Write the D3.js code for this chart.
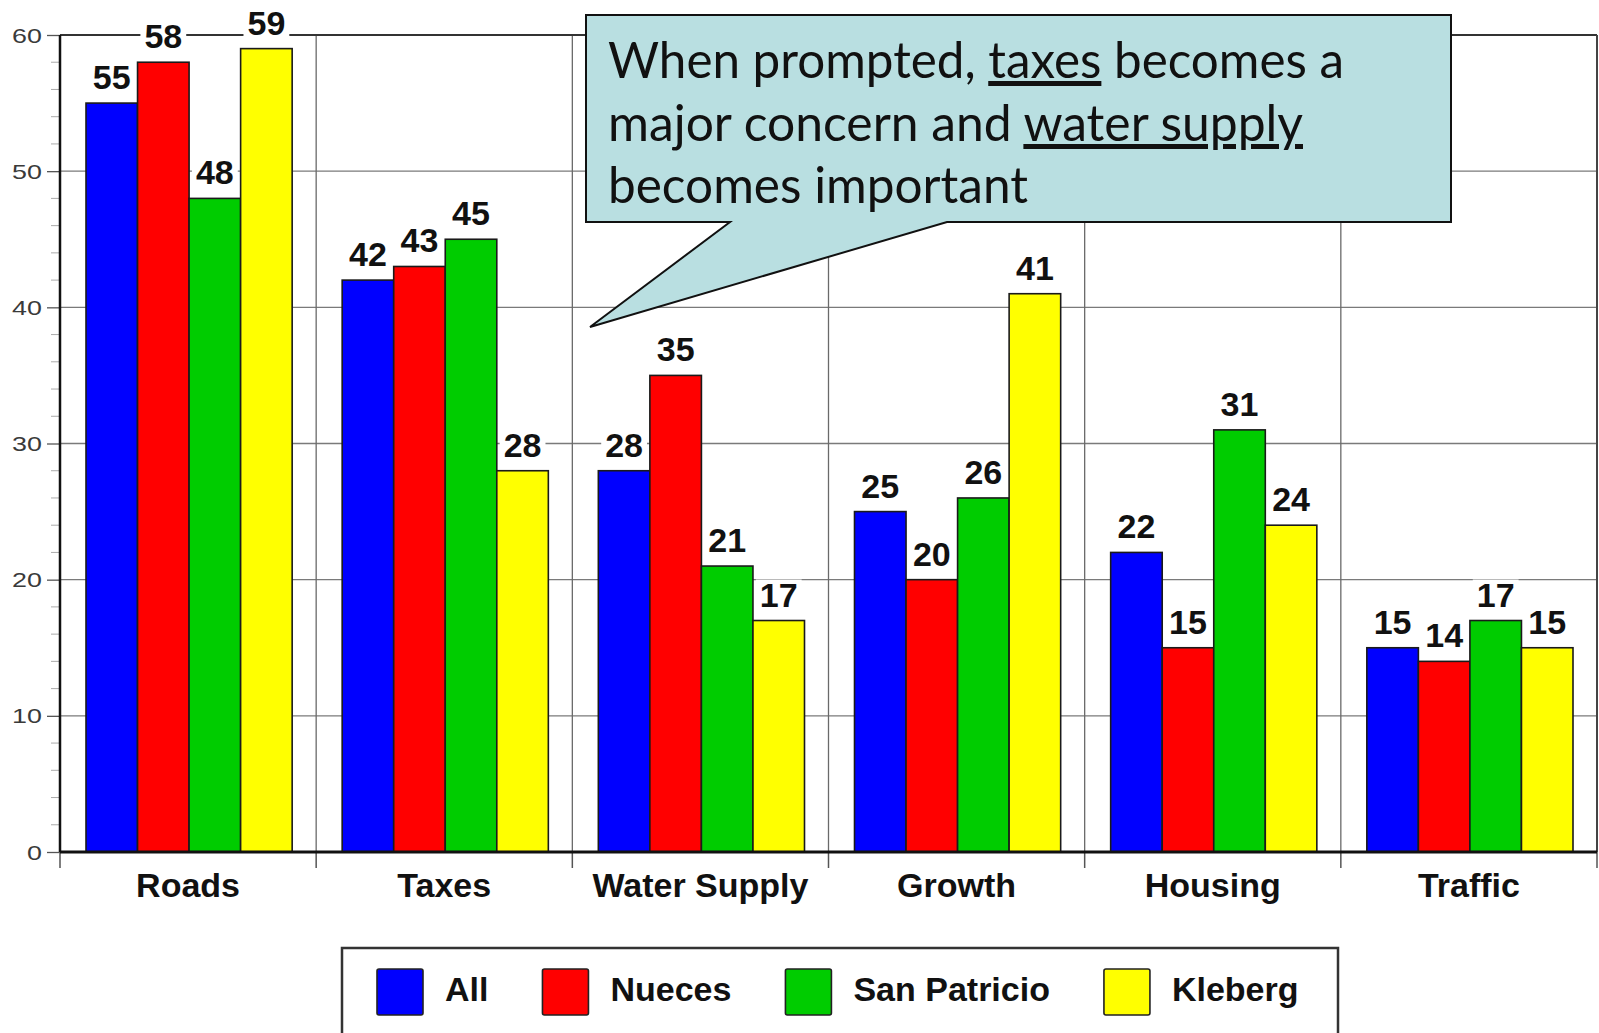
<!DOCTYPE html>
<html>
<head>
<meta charset="utf-8">
<script src="https://cdn.jsdelivr.net/npm/d3@7"></script>
<style>
  html, body { margin: 0; padding: 0; background: #fff; }
  svg { display: block; }
</style>
</head>
<body>
<svg id="chart" width="1599" height="1033"></svg>
<script>
const categories = ["Roads", "Taxes", "Water Supply", "Growth", "Housing", "Traffic"];
const seriesNames = ["All", "Nueces", "San Patricio", "Kleberg"];
const allValues = [55, 42, 28, 25, 22, 15];
const nuecesValues = [58, 43, 35, 20, 15, 14];
const sanPatricioValues = [48, 45, 21, 26, 31, 17];
const klebergValues = [59, 28, 17, 41, 24, 15];
const yTickValues = [0, 10, 20, 30, 40, 50, 60];
const yMinorTickValues = [2,4,6,8,12,14,16,18,22,24,26,28,32,34,36,38,42,44,46,48,52,54,56,58];
const seriesColors = ["#0000ff", "#ff0000", "#00cc00", "#ffff00"];
const calloutLines = [
  [{t: "When prompted, "}, {t: "taxes", u: true}, {t: " becomes a"}],
  [{t: "major concern and "}, {t: "water supply", u: true}],
  [{t: "becomes important"}]
];

const seriesValues = [allValues, nuecesValues, sanPatricioValues, klebergValues];
const rows = categories.map((c, i) => ({
  category: c,
  values: seriesNames.map((s, j) => ({series: s, idx: j, value: seriesValues[j][i]}))
}));

const svg = d3.select("#chart");
const W = 1599, H = 1033;
const plot = {left: 60, right: 1597, top: 35, bottom: 852};
const boldFont = "'Liberation Sans', Arial, Helvetica, sans-serif";

svg.append("rect").attr("width", W).attr("height", H).attr("fill", "#fff");

const x = d3.scaleBand().domain(categories).range([plot.left, plot.right]).paddingInner(0).paddingOuter(0);
const bw = x.bandwidth();
const xs = d3.scaleBand().domain(seriesNames).range([26, bw - 24]).padding(0);
const y = d3.scaleLinear().domain([0, 60]).range([plot.bottom, plot.top]);

// horizontal gridlines
svg.append("g").selectAll("line").data(yTickValues.filter(v => v > 0 && v < 60)).join("line")
  .attr("x1", plot.left).attr("x2", plot.right)
  .attr("y1", d => y(d)).attr("y2", d => y(d))
  .attr("stroke", "#7a7a7a").attr("stroke-width", 1.3);

// vertical gridlines at band boundaries
const boundaries = categories.map(c => x(c)).concat([plot.right]);
svg.append("g").selectAll("line").data(boundaries.slice(1, -1)).join("line")
  .attr("x1", d => d).attr("x2", d => d)
  .attr("y1", plot.top).attr("y2", plot.bottom)
  .attr("stroke", "#6a6a6a").attr("stroke-width", 1.3);

// frame top & right
svg.append("line").attr("x1", plot.left).attr("x2", plot.right).attr("y1", plot.top).attr("y2", plot.top)
  .attr("stroke", "#333").attr("stroke-width", 2);
svg.append("line").attr("x1", plot.right).attr("x2", plot.right).attr("y1", plot.top).attr("y2", plot.bottom)
  .attr("stroke", "#444").attr("stroke-width", 2);

// x ticks below axis
svg.append("g").selectAll("line").data(boundaries).join("line")
  .attr("x1", d => d).attr("x2", d => d)
  .attr("y1", plot.bottom).attr("y2", plot.bottom + 16)
  .attr("stroke", "#555").attr("stroke-width", 1.5);

// bars
const groups = svg.append("g").selectAll("g").data(rows).join("g")
  .attr("transform", d => `translate(${x(d.category)},0)`);
groups.selectAll("rect").data(d => d.values).join("rect")
  .attr("x", d => xs(d.series))
  .attr("y", d => y(d.value))
  .attr("width", xs.bandwidth())
  .attr("height", d => y(0) - y(d.value))
  .attr("fill", d => seriesColors[d.idx])
  .attr("stroke", "#1a1a1a").attr("stroke-width", 1.6);

// y axis ticks
const yAxis = d3.axisLeft(y).tickValues(yTickValues).tickSize(13).tickFormat("");
const yg = svg.append("g").attr("transform", `translate(${plot.left},0)`).call(yAxis);
yg.select(".domain").remove();
yg.selectAll(".tick line").attr("stroke", "#555").attr("stroke-width", 1.3);
// y tick labels (horizontally stretched like the original)
const sx = 1.28;
svg.append("g").attr("transform", `scale(${sx},1)`)
  .selectAll("text").data(yTickValues).join("text")
  .attr("x", 42 / sx).attr("y", d => y(d)).attr("dy", "0.36em")
  .attr("text-anchor", "end")
  .attr("font-family", "Arial, 'Liberation Sans', sans-serif")
  .attr("font-size", 21).attr("fill", "#3a3a3a")
  .text(d => d);
svg.append("g").selectAll("line").data(yMinorTickValues).join("line")
  .attr("x1", plot.left - 9).attr("x2", plot.left)
  .attr("y1", d => y(d)).attr("y2", d => y(d))
  .attr("stroke", "#aaa").attr("stroke-width", 1);
svg.append("line").attr("x1", plot.left).attr("x2", plot.left).attr("y1", plot.top).attr("y2", plot.bottom)
  .attr("stroke", "#111").attr("stroke-width", 2.5);

// x axis line
svg.append("line").attr("x1", plot.left).attr("x2", plot.right).attr("y1", plot.bottom).attr("y2", plot.bottom)
  .attr("stroke", "#111").attr("stroke-width", 3);

// value labels with white background
const labelG = svg.append("g");
rows.forEach(r => {
  r.values.forEach(v => {
    const cx = x(r.category) + xs(v.series) + xs.bandwidth() / 2;
    const g = labelG.append("g");
    const t = g.append("text")
      .attr("x", cx).attr("y", y(v.value) - 14)
      .attr("text-anchor", "middle")
      .attr("font-family", boldFont).attr("font-weight", "bold")
      .attr("font-size", 34).attr("fill", "#111")
      .text(v.value);
    const bb = t.node().getBBox();
    g.insert("rect", "text")
      .attr("x", bb.x - 4).attr("y", bb.y + 4)
      .attr("width", bb.width + 8).attr("height", bb.height - 6)
      .attr("fill", "#fff");
  });
});

// category labels
svg.append("g").selectAll("text").data(categories).join("text")
  .attr("x", d => x(d) + bw / 2).attr("y", 897)
  .attr("text-anchor", "middle")
  .attr("font-family", boldFont).attr("font-weight", "bold")
  .attr("font-size", 34).attr("fill", "#111")
  .text(d => d);

// legend
const legend = svg.append("g");
legend.append("rect").attr("x", 342).attr("y", 948).attr("width", 996).attr("height", 120)
  .attr("fill", "#fff").attr("stroke", "#333").attr("stroke-width", 2.5);
let lx = 377;
seriesNames.forEach((s, i) => {
  legend.append("rect").attr("x", lx).attr("y", 969).attr("width", 46).attr("height", 46)
    .attr("rx", 2).attr("fill", seriesColors[i]).attr("stroke", "#222").attr("stroke-width", 1.6);
  const t = legend.append("text").attr("x", lx + 68).attr("y", 1001)
    .attr("font-family", boldFont).attr("font-weight", "bold")
    .attr("font-size", 34).attr("fill", "#111").text(s);
  lx = lx + 68 + t.node().getComputedTextLength() + 54;
});

// callout
const callout = svg.append("g");
callout.append("path")
  .attr("d", "M586,15 H1451 V222 H947 L590,327 L730,222 H586 Z")
  .attr("fill", "#b9dfe1").attr("stroke", "#111").attr("stroke-width", 2)
  .attr("stroke-linejoin", "miter");
const lineWidths = [736, 695, 420];
const lineBaselines = [78, 141, 203];
calloutLines.forEach((parts, i) => {
  const t = callout.append("text")
    .attr("x", 608).attr("y", lineBaselines[i])
    .attr("font-family", "'Gill Sans', 'Gill Sans MT', Lato, 'Open Sans', sans-serif")
    .attr("font-size", 50).attr("fill", "#111")
    .attr("textLength", lineWidths[i]).attr("lengthAdjust", "spacingAndGlyphs")
    .attr("xml:space", "preserve");
  parts.forEach(p => {
    const ts = t.append("tspan").text(p.t);
    if (p.u) ts.attr("text-decoration", "underline");
  });
});
</script>
</body>
</html>
